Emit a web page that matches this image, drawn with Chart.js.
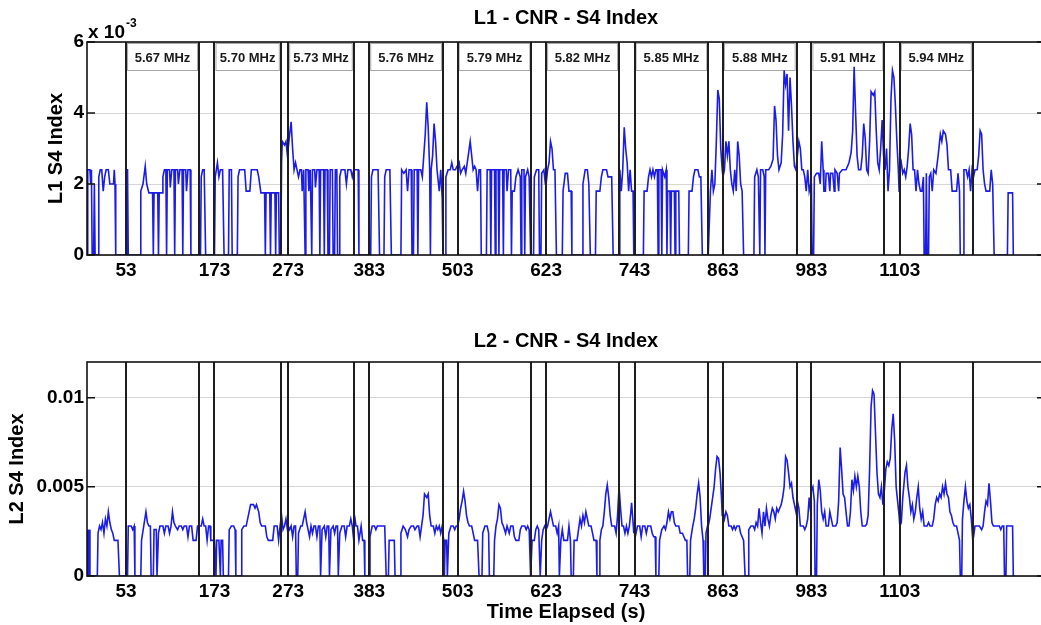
<!DOCTYPE html>
<html>
<head>
<meta charset="utf-8">
<script src="https://cdn.jsdelivr.net/npm/chart.js@4.4.1/dist/chart.umd.min.js"></script>
<style>
html, body { margin: 0; padding: 0; background: #fff; overflow: hidden; }
#wrap { position: relative; width: 1041px; height: 625px; overflow: hidden; }
canvas { position: absolute; left: 0; }
#c1 { top: 0; }
#c2 { top: 320px; }
</style>
</head>
<body>
<div id="wrap">
<canvas id="c1" width="1050" height="300"></canvas>
<canvas id="c2" width="1050" height="305"></canvas>
</div>
<script>
// tick positions on the time axis (s)
var timeTicks = [53, 173, 273, 383, 503, 623, 743, 863, 983, 1103];

// each carrier frequency was measured between these two times (s)
var freqStart = [53, 173, 273, 383, 503, 623, 743, 863, 983, 1103];
var freqEnd = [152, 263, 362, 483, 603, 722, 843, 963, 1082, 1202];
var freqLabels = ['5.67 MHz', '5.70 MHz', '5.73 MHz', '5.76 MHz', '5.79 MHz',
                  '5.82 MHz', '5.85 MHz', '5.88 MHz', '5.91 MHz', '5.94 MHz'];

var l1Ticks = [0, 2, 4, 6];          // x 10^-3
var l2Ticks = [0, 0.005, 0.01];

// L1 S4 index, [seconds, value x 10^-3]
var l1Series = [
  [0,0],[1,2.4],[4,2.4],[5,2.0],[6,2.4],[7,0],[9,0],[10,2.0],[11,0],[15,0],[16,2.2],[18,2.4],[20,2.4],[22,1.8],[24,2.2],[26,2.4],[29,2.4],[31,2.0],[36,2.0],[37,2.4],[38,2.0],[39,0],[53,0],
  [54,2.4],[55,2.4],[56,0],[72,0],[73,1.8],[76,2.0],[79,2.5],[81,2.0],[84,1.75],[89,1.75],[90,0],[91,1.75],[96,1.75],[97,0],[98,1.75],[102,1.75],[103,2.2],[105,2.4],[107,2.4],[108,0],[109,2.4],[112,2.4],[113,1.9],[115,2.4],[118,2.4],[119,0],[120,2.4],[123,2.4],[124,2.0],[126,2.4],[129,2.4],[130,0],[131,2.4],[134,2.4],[135,1.8],[137,2.4],[140,2.4],[141,0],[153,0],
  [154,0],[155,2.2],[157,2.4],[159,2.4],[161,0],[173,0],
  [174,2.2],[177,2.6],[179,2.2],[181,2.4],[184,2.4],[186,0],[192,0],[193,2.4],[196,2.4],[197,0],[204,0],[205,2.2],[207,2.4],[214,2.4],[216,1.8],[221,1.8],[223,2.4],[231,2.4],[233,2.2],[236,1.75],[241,1.75],[242,0],[243,1.75],[248,1.75],[249,0],[250,1.75],[255,1.75],[256,0],[257,1.75],[260,1.75],[261,0],[263,0],
  [264,2.6],[265,3.2],[268,3.1],[270,3.2],[272,2.8],
  [273,3.0],[275,3.4],[277,3.75],[279,3.0],[281,2.4],[283,2.6],[285,2.4],[287,2.2],[289,2.4],[291,2.4],[292,1.8],[294,2.4],[296,0],[297,2.4],[300,2.4],[301,1.8],[303,2.4],[305,0],[306,2.4],[309,2.4],[310,1.9],[312,2.4],[315,2.4],[316,0],[317,2.4],[321,2.4],[322,0],[323,2.4],[326,2.4],[327,0],[329,0],[330,2.4],[333,2.4],[334,0],[336,0],[337,2.4],[339,2.4],[340,0],[342,0],[343,2.2],[345,2.4],[350,2.4],[352,2.0],[354,2.4],[358,2.4],[360,2.2],[362,2.4],
  [364,2.4],[368,2.4],[369,0],[383,0],
  [385,0],[386,2.2],[388,2.4],[395,2.4],[397,0],[403,0],[404,2.2],[406,2.4],[411,2.4],[413,0],[426,0],[427,2.4],[430,2.3],[433,2.4],[435,1.8],[437,2.4],[440,2.4],[441,0],[443,0],[444,2.4],[448,2.4],[449,0],[450,2.4],[453,2.4],[455,2.2],[457,2.8],[459,3.4],[461,4.3],[463,3.6],[465,2.4],[466,0],[467,2.4],[469,2.8],[471,3.7],[473,3.2],[475,2.4],[477,2.0],[478,1.8],[480,2.4],[482,1.6],[483,0],
  [484,0],[486,0],[487,2.2],[490,2.4],[493,2.4],[495,2.6],[497,2.4],[500,2.4],[502,2.5],
  [503,2.5],[505,2.6],[507,2.3],[509,2.4],[512,2.5],[514,2.3],[516,2.6],[518,2.9],[520,3.2],[522,2.8],[524,2.4],[526,2.5],[528,2.4],[530,1.8],[532,2.4],[534,2.4],[535,0],[542,0],[543,2.4],[547,2.4],[548,0],[549,2.4],[553,2.4],[554,0],[555,2.4],[558,2.4],[559,0],[560,2.4],[564,2.4],[565,0],[566,2.4],[569,2.4],[570,1.8],[572,2.4],[575,2.4],[576,0],[577,1.8],[580,1.8],[582,2.2],[585,2.4],[588,2.2],[589,0],[590,2.4],[593,2.4],[594,0],[595,2.2],[598,2.4],[600,2.2],[602,0],
  [604,0],[606,0],[607,2.2],[610,2.4],[613,2.4],[614,0],[616,0],[617,2.3],[620,2.4],[622,2.0],
  [623,2.0],[625,2.4],[627,2.6],[629,3.2],[631,3.0],[633,2.4],[635,2.4],[637,0],[645,0],[646,1.8],[649,2.3],[652,2.3],[654,1.8],[657,1.8],[658,0],[672,0],[673,2.0],[676,2.4],[679,2.4],[681,2.0],[683,0],[690,0],[691,1.8],[696,1.8],[698,2.2],[700,2.4],[705,2.4],[707,2.2],[712,2.2],[714,0],[722,0],
  [723,2.4],[725,1.8],[727,2.4],[729,3.6],[731,3.0],[733,2.6],[735,1.8],[737,2.4],[739,1.8],[741,1.8],[742,0],
  [743,0],[755,0],[756,1.8],[760,1.8],[762,2.2],[764,2.4],[766,2.2],[768,2.4],[770,2.2],[772,2.4],[774,2.4],[775,0],[776,2.4],[779,2.4],[780,0],[781,2.4],[784,2.2],[786,2.4],[787,0],[788,1.8],[791,1.8],[792,0],[793,1.8],[797,1.8],[798,0],[799,1.8],[803,1.8],[804,0],[816,0],[817,1.8],[821,1.8],[823,2.2],[825,2.4],[829,2.4],[831,2.2],[833,2.2],[835,0],[843,0],
  [844,0],[846,1.8],[848,2.4],[850,1.8],[852,2.0],[854,3.2],[856,4.65],[858,4.4],[860,3.0],[862,2.4],
  [863,2.2],[865,2.4],[867,3.2],[869,2.8],[871,3.2],[873,2.4],[875,2.0],[877,1.8],[879,2.4],[881,1.8],[883,3.2],[885,2.8],[887,2.0],[889,1.8],[891,0],[905,0],[906,2.2],[909,2.4],[911,2.2],[913,0],[914,2.4],[917,2.4],[919,2.2],[920,0],[921,2.4],[925,2.4],[928,2.5],[931,2.7],[933,4.2],[935,3.8],[937,2.8],[939,2.4],[942,2.6],[944,3.4],[946,5.2],[948,4.8],[950,5.1],[952,3.5],[954,5.0],[956,4.2],[958,3.2],[960,2.5],[962,2.4],
  [964,2.8],[966,3.2],[968,3.0],[970,2.4],[972,2.4],[974,2.2],[976,1.8],[978,2.4],[980,1.8],[982,2.0],
  [983,2.0],[984,0],[986,0],[987,2.2],[990,2.3],[993,2.3],[995,2.0],[997,3.2],[999,2.4],[1000,1.8],[1002,1.8],[1003,2.3],[1006,2.3],[1008,1.8],[1009,2.3],[1012,2.3],[1014,1.8],[1015,2.4],[1018,2.3],[1020,1.8],[1021,2.3],[1025,2.4],[1030,2.4],[1034,2.6],[1037,2.9],[1039,3.5],[1041,5.3],[1043,4.0],[1045,2.8],[1047,2.4],[1050,2.4],[1052,2.8],[1054,3.7],[1056,3.3],[1058,2.4],[1060,2.3],[1062,3.2],[1064,4.6],[1067,4.5],[1069,4.6],[1071,3.5],[1073,2.6],[1075,2.4],[1077,3.0],[1079,3.8],[1081,2.8],[1083,2.4],
  [1085,3.0],[1087,1.8],[1089,2.4],[1091,4.4],[1093,5.2],[1095,5.0],[1097,4.2],[1099,3.2],[1101,2.4],[1102,1.8],
  [1103,2.4],[1105,2.6],[1107,2.3],[1109,2.4],[1111,2.2],[1113,2.5],[1115,3.0],[1117,3.7],[1119,3.4],[1121,2.4],[1123,2.4],[1125,1.8],[1127,2.4],[1129,2.0],[1131,1.8],[1133,1.8],[1135,2.2],[1136,0],[1138,0],[1139,2.3],[1140,0],[1142,0],[1143,2.2],[1145,2.3],[1147,1.8],[1149,2.4],[1152,2.3],[1155,2.8],[1158,3.4],[1160,3.2],[1162,3.5],[1165,3.4],[1167,3.1],[1169,2.4],[1172,2.4],[1174,1.8],[1180,1.8],[1182,2.3],[1184,1.8],[1185,0],[1189,0],[1190,2.4],[1193,2.4],[1195,2.2],[1197,2.4],[1199,1.8],[1201,2.4],
  [1203,2.2],[1205,2.4],[1208,2.4],[1210,2.8],[1212,3.5],[1214,3.4],[1216,2.4],[1218,2.0],[1220,1.8],[1225,1.8],[1227,2.4],[1229,2.0],[1231,0],[1249,0],[1250,1.75],[1256,1.75],[1257,0]
];

// L2 S4 index, [seconds, value x 10^-3]
var l2Series = [
  [0,0],[1,2.6],[2,0],[3,2.6],[4,0],[14,0],[15,2.4],[17,2.8],[19,2.6],[21,3.0],[23,2.4],[25,3.2],[27,2.8],[29,3.6],[31,3.0],[33,2.6],[35,2.4],[37,2.0],[42,2.0],[44,0],[53,0],
  [55,0],[56,2.8],[60,2.8],[62,2.6],[64,2.8],[65,0],[73,0],[74,2.0],[77,2.8],[80,3.6],[82,3.0],[84,2.8],[86,2.8],[87,0],[90,0],[91,2.6],[94,2.6],[95,0],[97,2.4],[99,2.8],[103,2.8],[105,2.4],[107,2.8],[110,2.8],[112,2.4],[114,2.8],[116,3.6],[118,3.0],[120,2.8],[123,2.6],[125,2.8],[128,2.8],[130,2.6],[132,2.8],[135,2.8],[137,2.2],[139,2.8],[142,2.8],[144,2.0],[148,2.0],[150,2.8],[152,2.8],
  [153,2.8],[155,2.8],[157,3.2],[159,2.8],[161,2.8],[163,2.0],[165,2.8],[167,2.8],[168,2.0],[172,2.0],
  [173,2.0],[175,0],[176,2.0],[179,2.0],[181,0],[182,2.0],[184,2.0],[185,0],[192,0],[193,2.6],[196,2.8],[199,2.8],[201,2.6],[202,0],[209,0],[210,2.6],[213,2.8],[216,2.8],[218,3.2],[220,3.6],[222,4.0],[226,4.0],[228,3.8],[230,4.0],[233,3.6],[235,3.0],[237,2.8],[242,2.8],[244,2.2],[246,2.0],[252,2.0],[254,2.8],[258,2.8],[260,2.0],[262,2.8],
  [264,3.4],[266,2.6],[268,2.8],[270,3.2],[272,2.6],
  [273,2.8],[275,2.6],[277,2.8],[279,2.2],[281,2.8],[283,2.8],[284,0],[286,0],[287,2.4],[290,2.8],[292,2.8],[294,3.2],[296,3.6],[298,3.0],[300,2.6],[302,2.2],[304,2.8],[306,2.4],[308,2.8],[310,2.8],[312,2.2],[314,2.8],[316,2.8],[317,0],[319,2.6],[322,2.8],[324,2.2],[326,2.8],[328,2.8],[329,0],[331,2.6],[334,2.8],[336,2.4],[338,2.8],[340,2.8],[341,0],[343,2.4],[346,2.8],[349,2.8],[351,2.2],[353,2.8],[356,2.8],[358,3.2],[360,2.8],[362,2.0],
  [363,3.4],[365,2.8],[367,2.8],[369,2.0],[372,2.8],[374,2.0],[376,2.0],[377,0],[382,0],
  [383,0],[384,2.2],[387,2.8],[390,2.8],[392,2.6],[394,2.8],[404,2.8],[406,0],[409,0],[410,2.0],[417,2.0],[418,0],[425,0],[426,2.4],[429,2.8],[432,2.6],[435,2.2],[437,2.6],[440,2.8],[443,2.8],[445,2.6],[448,2.8],[450,2.8],[452,2.2],[454,2.8],[456,3.4],[458,4.6],[461,4.4],[463,4.6],[465,3.4],[467,2.8],[470,2.8],[472,2.4],[474,2.8],[476,2.6],[478,2.8],[480,2.4],[482,2.8],
  [484,2.0],[485,0],[486,2.0],[488,2.0],[489,0],[491,2.4],[494,2.8],[497,2.8],[499,2.6],[501,2.8],
  [503,2.8],[505,3.2],[507,3.8],[509,4.2],[511,4.75],[513,4.2],[515,3.4],[517,3.0],[519,2.8],[522,2.8],[524,2.4],[526,2.0],[530,2.0],[532,0],[536,0],[537,2.4],[540,2.8],[543,2.8],[545,2.4],[546,0],[552,0],[553,2.0],[555,2.8],[557,3.2],[559,4.0],[561,3.8],[563,3.0],[565,2.8],[568,2.4],[570,2.8],[573,2.4],[575,2.8],[578,2.8],[580,2.2],[582,2.0],[586,2.0],[588,2.6],[590,2.8],[594,2.8],[596,2.6],[598,2.8],[600,2.6],[602,0],
  [604,2.0],[607,2.0],[609,2.6],[611,2.8],[613,2.6],[615,0],[617,2.0],[619,2.6],[621,2.8],
  [623,2.6],[625,2.8],[627,3.2],[629,3.6],[631,3.2],[633,2.8],[636,2.8],[638,2.4],[640,2.8],[641,0],[643,2.0],[645,2.6],[647,2.0],[652,2.0],[654,2.8],[656,2.0],[657,0],[660,0],[661,2.0],[665,2.0],[667,2.6],[669,3.2],[671,2.8],[673,3.4],[675,3.0],[677,3.6],[679,3.2],[681,2.8],[684,2.8],[686,2.4],[688,2.0],[691,2.0],[692,0],[695,0],[696,2.0],[698,2.6],[700,2.8],[702,3.6],[704,4.6],[706,5.1],[708,4.4],[710,3.4],[712,2.8],[716,2.8],[718,2.4],[720,3.4],[722,5.0],
  [724,3.8],[726,2.8],[728,2.8],[730,2.4],[732,2.8],[734,2.4],[736,2.8],[738,3.6],[739,4.1],[741,3.0],[742,2.4],
  [743,2.8],[745,2.4],[747,2.8],[750,2.8],[752,2.2],[754,2.8],[757,2.8],[759,2.4],[761,2.8],[765,2.8],[767,2.4],[769,2.2],[771,2.2],[772,0],[776,0],[777,2.0],[780,2.6],[783,2.8],[785,2.6],[787,3.0],[789,3.6],[791,3.2],[793,3.6],[795,3.6],[797,3.0],[799,2.8],[803,2.8],[805,2.4],[808,2.4],[810,2.2],[812,2.0],[814,2.0],[815,0],[818,0],[819,2.0],[822,2.8],[824,3.2],[826,3.8],[828,4.6],[830,5.2],[832,4.4],[834,2.8],[836,2.0],[837,0],[839,0],[840,2.4],[842,2.8],
  [843,2.8],[845,3.2],[847,3.8],[849,4.4],[851,5.0],[853,6.0],[855,6.7],[857,6.6],[859,5.8],[861,4.4],[862,3.4],
  [863,3.6],[865,3.2],[867,3.6],[869,3.4],[871,2.8],[874,2.8],[876,2.6],[878,2.8],[880,2.6],[882,2.8],[885,2.8],[887,2.4],[889,2.2],[891,2.0],[893,0],[897,0],[898,2.6],[901,2.8],[904,2.8],[906,2.6],[908,3.0],[910,2.8],[912,3.8],[914,3.0],[916,2.4],[918,3.6],[920,2.8],[922,3.8],[924,3.2],[926,2.8],[928,3.4],[930,3.8],[932,3.6],[934,3.2],[936,3.8],[938,3.6],[940,3.8],[942,4.0],[944,4.4],[946,5.0],[948,6.7],[950,6.5],[952,5.8],[954,5.0],[956,5.2],[958,4.4],[960,4.0],[962,3.6],
  [964,4.2],[966,3.8],[968,2.8],[972,2.8],[974,2.6],[976,2.8],[978,3.2],[980,4.4],[982,3.6],
  [983,4.8],[985,5.0],[987,4.2],[988,0],[990,0],[991,4.0],[993,5.4],[995,4.8],[997,3.6],[999,3.2],[1001,3.6],[1003,2.8],[1006,2.8],[1008,3.6],[1010,3.2],[1012,2.8],[1016,2.8],[1018,3.0],[1020,4.2],[1022,7.2],[1024,6.0],[1026,4.6],[1028,4.4],[1030,3.6],[1032,2.8],[1034,2.8],[1036,3.6],[1038,5.4],[1040,4.8],[1042,5.6],[1044,5.0],[1046,5.6],[1048,5.0],[1050,3.6],[1052,2.8],[1056,2.8],[1058,2.9],[1060,3.4],[1062,6.0],[1064,9.5],[1066,10.4],[1068,10.2],[1070,8.0],[1072,5.8],[1074,4.6],[1076,4.4],[1078,5.0],[1080,4.0],[1082,4.8],
  [1084,6.0],[1086,6.4],[1088,6.2],[1090,6.6],[1092,8.2],[1094,9.1],[1096,7.6],[1098,5.0],[1100,4.2],[1102,3.4],
  [1103,2.8],[1105,3.0],[1107,4.4],[1110,5.8],[1112,6.2],[1114,5.0],[1116,4.4],[1118,3.6],[1120,4.0],[1122,3.2],[1124,3.6],[1126,4.4],[1128,5.0],[1130,3.8],[1132,3.2],[1134,3.6],[1136,2.8],[1140,2.8],[1142,3.0],[1144,2.8],[1147,2.8],[1149,3.2],[1151,4.0],[1153,4.4],[1155,4.2],[1157,4.6],[1159,4.4],[1161,5.0],[1163,4.6],[1165,5.2],[1167,4.6],[1169,4.4],[1171,3.6],[1173,3.4],[1175,3.0],[1177,2.8],[1180,2.8],[1182,2.4],[1184,2.0],[1185,0],[1187,0],[1188,3.2],[1190,4.2],[1192,5.0],[1194,4.2],[1196,3.8],[1198,4.0],[1200,3.2],[1202,2.0],
  [1203,2.2],[1205,2.8],[1208,2.8],[1211,2.8],[1214,2.6],[1216,2.8],[1218,3.6],[1220,4.2],[1222,4.0],[1224,5.2],[1226,4.2],[1228,3.0],[1230,2.8],[1235,2.8],[1238,2.8],[1240,2.6],[1242,2.8],[1244,2.8],[1245,0],[1247,0],[1248,2.8],[1256,2.8],[1257,0],[1259,0]
];

var FONT = '"Liberation Sans", Arial, Helvetica, sans-serif';
var lineBlue = '#1c1ce8';

// boxes with the frequency names, vertical change lines, axes frame, inner ticks
var framePlugin = {
    id: 'frame',
    beforeDatasetsDraw: function(chart, args, opts) {
        if (!opts.boxes) return;
        var ctx = chart.ctx, area = chart.chartArea, xs = chart.scales.x;
        ctx.save();
        ctx.font = 'bold 13px ' + FONT;
        ctx.textAlign = 'center';
        ctx.textBaseline = 'middle';
        for (var i = 0; i < freqLabels.length; i++) {
            var a = xs.getPixelForValue(freqStart[i]) + 1;
            var b = xs.getPixelForValue(freqEnd[i]) - 1;
            ctx.fillStyle = '#fff';
            ctx.fillRect(a, area.top + 1, b - a, 28);
            ctx.strokeStyle = '#a8a8a8';
            ctx.lineWidth = 1;
            ctx.strokeRect(a + 0.5, area.top + 1.5, b - a - 1, 27);
            ctx.fillStyle = '#1a1a1a';
            ctx.fillText(freqLabels[i], (a + b) / 2, area.top + 16);
        }
        ctx.restore();
    },
    afterDatasetsDraw: function(chart, args, opts) {
        var ctx = chart.ctx, area = chart.chartArea, xs = chart.scales.x, ys = chart.scales.y;
        ctx.save();
        ctx.strokeStyle = '#1e1e1e';
        ctx.lineWidth = 2;
        var marks = freqStart.concat(freqEnd);
        for (var i = 0; i < marks.length; i++) {
            var px = Math.round(xs.getPixelForValue(marks[i]));
            ctx.beginPath();
            ctx.moveTo(px, area.top);
            ctx.lineTo(px, area.bottom);
            ctx.stroke();
        }
        // inner y ticks on both sides
        ctx.lineWidth = 1.5;
        ctx.strokeStyle = '#111';
        for (var j = 0; j < ys.ticks.length; j++) {
            var py = ys.getPixelForValue(ys.ticks[j].value);
            ctx.beginPath();
            ctx.moveTo(area.left, py);
            ctx.lineTo(area.left + 8, py);
            ctx.moveTo(area.right - 8, py);
            ctx.lineTo(area.right, py);
            ctx.stroke();
        }
        ctx.lineWidth = 1.6;
        ctx.strokeRect(area.left, area.top, area.right - area.left, area.bottom - area.top);
        if (opts.multiplier) {
            ctx.fillStyle = '#000';
            ctx.textAlign = 'left';
            ctx.textBaseline = 'alphabetic';
            ctx.font = 'bold 19px ' + FONT;
            ctx.fillText('x 10', area.left + 1, area.top - 4);
            var w = ctx.measureText('x 10').width;
            ctx.font = 'bold 12px ' + FONT;
            ctx.fillText('-3', area.left + 2 + w, area.top - 15);
        }
        ctx.restore();
    }
};

function setTicks(list) {
    return function(scale) {
        scale.ticks = list.map(function(v) { return { value: v }; });
    };
}

function makeChart(id, opts) {
    var tickFont = { family: FONT, size: 19, weight: 'bold' };
    return new Chart(document.getElementById(id), {
        type: 'line',
        data: {
            datasets: [{
                data: opts.series.map(function(p) { return { x: p[0], y: p[1] * opts.factor }; }),
                borderColor: lineBlue,
                borderWidth: 1.6,
                pointRadius: 0,
                tension: 0,
                fill: false
            }]
        },
        options: {
            responsive: false,
            animation: false,
            devicePixelRatio: 1,
            parsing: false,
            layout: { padding: { left: 0, right: 5, top: 0, bottom: 0 } },
            plugins: {
                legend: { display: false },
                tooltip: { enabled: false },
                title: {
                    display: true,
                    text: opts.title,
                    fullSize: false,
                    color: '#000',
                    font: { family: FONT, size: 20, weight: 'bold' },
                    padding: opts.titlePad
                },
                frame: { boxes: opts.boxes, multiplier: opts.boxes }
            },
            scales: {
                x: {
                    type: 'linear',
                    min: 0,
                    max: 1300,
                    afterBuildTicks: setTicks(timeTicks),
                    afterFit: function(s) { s.height = opts.xHeight; },
                    grid: { display: false, drawTicks: false },
                    border: { display: false },
                    ticks: {
                        padding: 4,
                        color: '#000',
                        font: tickFont,
                        maxRotation: 0,
                        autoSkip: false,
                        callback: function(v) { return String(v); }
                    },
                    title: {
                        display: !!opts.xTitle,
                        text: opts.xTitle || '',
                        color: '#000',
                        font: { family: FONT, size: 20, weight: 'bold' },
                        padding: { top: 0, bottom: 1 }
                    }
                },
                y: {
                    min: 0,
                    max: opts.yMax,
                    afterBuildTicks: setTicks(opts.yTicks),
                    afterFit: function(s) { s.width = 87; },
                    grid: { color: '#d6d6d6', lineWidth: 1, drawTicks: false },
                    border: { display: false },
                    ticks: {
                        padding: 3,
                        color: '#000',
                        font: tickFont,
                        callback: function(v) { return v === 0 ? '0' : String(v); }
                    },
                    title: {
                        display: true,
                        text: opts.yTitle,
                        color: '#000',
                        font: { family: FONT, size: 20, weight: 'bold' },
                        padding: { top: opts.yTitlePad, bottom: 0 }
                    }
                }
            }
        },
        plugins: [framePlugin]
    });
}

makeChart('c1', {
    series: l1Series, factor: 1, title: 'L1 - CNR - S4 Index', titlePad: { top: 6, bottom: 12 },
    xHeight: 45, yMax: 6, yTicks: l1Ticks, yTitle: 'L1 S4 Index', yTitlePad: 44, boxes: true
});
makeChart('c2', {
    series: l2Series, factor: 0.001, title: 'L2 - CNR - S4 Index', titlePad: { top: 9, bottom: 9 },
    xHeight: 49, yMax: 0.012, yTicks: l2Ticks, yTitle: 'L2 S4 Index', yTitlePad: 5, boxes: false,
    xTitle: 'Time Elapsed (s)'
});
</script>
</body>
</html>
